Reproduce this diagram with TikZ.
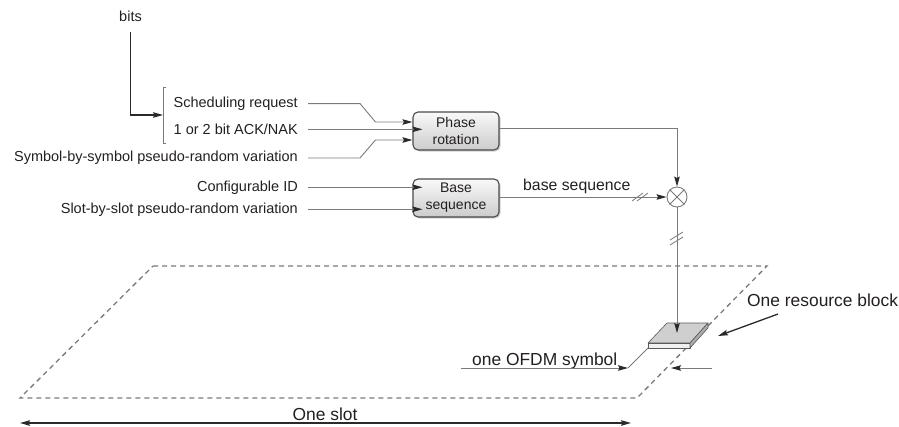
\documentclass[tikz,border=0pt]{standalone}
\usepackage{fontspec}
\setmainfont{Liberation Sans}
\usetikzlibrary{arrows.meta,calc,shadows}
\definecolor{ln}{HTML}{7A7A7A}
\definecolor{tx}{HTML}{231F20}
\definecolor{dk}{HTML}{2A2A2A}
\begin{document}
\begin{tikzpicture}[x=1pt,y=1pt,
  every node/.style={text=tx, inner sep=0pt},
  lbl/.style={font=\fontsize{14.5}{17}\selectfont},
  big/.style={font=\fontsize{17.4}{20}\selectfont},
  sig/.style={draw=ln, line width=0.9pt},
  arr/.style={-{Stealth[length=10pt,width=5.5pt,inset=1.5pt,color=dk]}},
  blk/.style={draw=dk!85, line width=1.1pt, rounded corners=5pt,
    top color=gray!5, bottom color=gray!40,
    minimum width=86pt, minimum height=38pt, align=center,
    font=\fontsize{14}{17}\selectfont,
    drop shadow={opacity=0.35, shadow xshift=1.5pt, shadow yshift=-1.5pt}},
  slash/.style={draw=ln, line width=0.8pt},
  face/.style={draw=gray!70!black, line width=0.6pt, line join=round},
]
\useasboundingbox (0,0) rectangle (899,-426);

% dashed slot plane
\coordinate (p1) at (153,-266);
\coordinate (p2) at (767,-266);
\coordinate (p3) at (637,-398);
\coordinate (p4) at (20,-398);
\draw[ln, line width=1.3pt, dash pattern=on 5pt off 4pt] (p1) -- (p2) -- (p3) -- (p4) -- cycle;

% labels on the left
\node[lbl, anchor=base] (bits) at (130.5,-21.5) {bits};
\node[lbl, anchor=base east] (sr) at (298,-107.3) {Scheduling request};
\node[lbl, anchor=base east] (ack) at (298,-134.5) {1 or 2 bit ACK/NAK};
\node[lbl, anchor=base east] (sym) at (298,-161.7) {Symbol-by-symbol pseudo-random variation};
\node[lbl, anchor=base east] (cid) at (298,-191) {Configurable ID};
\node[lbl, anchor=base east] (sls) at (298,-213) {Slot-by-slot pseudo-random variation};

% bracket
\coordinate (brtop) at (166,-87);
\coordinate (brin) at (163,-115);
\draw[ln, line width=1pt] (brtop) -- ++(-3,0) -- ++(0,-56) -- ++(3,0);
\draw[dk, line width=1.3pt, arr] ([yshift=-10pt]bits.south) |- (brin);

% blocks
\node[blk] (ph) at (456,-131) {Phase\\rotation};
\node[blk] (bs) at (456,-198) {Base\\sequence};

% mixer
\node[circle, draw=ln, line width=0.9pt, minimum size=20pt, fill=white] (mx) at (677,-197) {};
\draw[ln, line width=0.9pt] (mx.45) -- (mx.225) (mx.135) -- (mx.315);

% inputs to phase rotation
\draw[sig, arr] ([xshift=10pt]sr.east) -- ++(52,0) -- ($(ph.west)+(-37,9)$) -- ($(ph.west)+(0,9)$);
\draw[sig, arr] ([xshift=10pt]ack.east) -- ([xshift=10pt]ack.east -| ph.west);
\draw[sig, arr] ([xshift=10pt]sym.east) -- ++(52,0) -- ($(ph.west)+(-37,-9)$) -- ($(ph.west)+(0,-9)$);
% inputs to base sequence
\draw[sig, arr] ([xshift=10pt]cid.east) -- ([xshift=10pt]cid.east -| bs.west);
\draw[sig, arr] ([xshift=10pt]sls.east) -- ([xshift=10pt]sls.east -| bs.west);

% outputs
\draw[sig, arr] ([yshift=3pt]ph.east) -| (mx.north);
\draw[sig, arr] (bs.east |- mx.west) -- (mx.west);
\node[font=\fontsize{15.8}{18}\selectfont, anchor=base west] (bsl) at (523,-190.5) {base sequence};
\coordinate (h1) at (640,-197);
\draw[slash] ($(h1)+(-8,-4)$) -- ++(11,8) ($(h1)+(-3,-4)$) -- ++(11,8);

% resource block
\coordinate (b1) at (648,-343);
\coordinate (b2) at (667,-323);
\coordinate (b3) at (708,-323);
\coordinate (b4) at (690,-343);
\coordinate (b5) at (690,-348);
\coordinate (b6) at (648,-348);
\coordinate (b7) at (708,-328);
\coordinate (btop) at (677,-333);
\draw[face, fill=gray!38] (b1) -- (b2) -- (b3) -- (b4) -- cycle;
\draw[face, fill=gray!12] (b1) -- (b4) -- (b5) -- (b6) -- cycle;
\draw[face, fill=gray!65] (b4) -- (b3) -- (b7) -- (b5) -- cycle;

\draw[sig, arr] (mx.south) -- (btop);
\coordinate (v1) at (677,-237);
\draw[slash] ($(v1)+(-7,-3)$) -- ++(13,8) ($(v1)+(-7,-8)$) -- ++(13,8);

% one OFDM symbol
\node[big, anchor=base west] (ofdm) at (472,-365) {one OFDM symbol};
\coordinate (o1) at (461,-368);
\coordinate (o2) at (628,-368);
\draw[sig, arr] (o1) -- (o2);
\draw[sig] (o2) -- (b6);
\coordinate (r1) at (712,-368);
\coordinate (r2) at (671,-368);
\draw[sig, arr] (r1) -- (r2);

% one resource block
\node[big, anchor=base west] (orb) at (747,-306) {One resource block};
\coordinate (a1) at (778,-314);
\coordinate (a2) at (718,-336);
\draw[dk, line width=1.3pt, arr] (a1) -- (a2);

% one slot
\node[big, anchor=base] (os) at (325,-420) {One slot};
\coordinate (s1) at (20,-423);
\coordinate (s2) at (631,-423);
\draw[dk, line width=1.5pt, {Stealth[length=10pt,width=5.5pt,inset=1.5pt]}-{Stealth[length=10pt,width=5.5pt,inset=1.5pt]}] (s1) -- (s2);
\end{tikzpicture}
\end{document}
